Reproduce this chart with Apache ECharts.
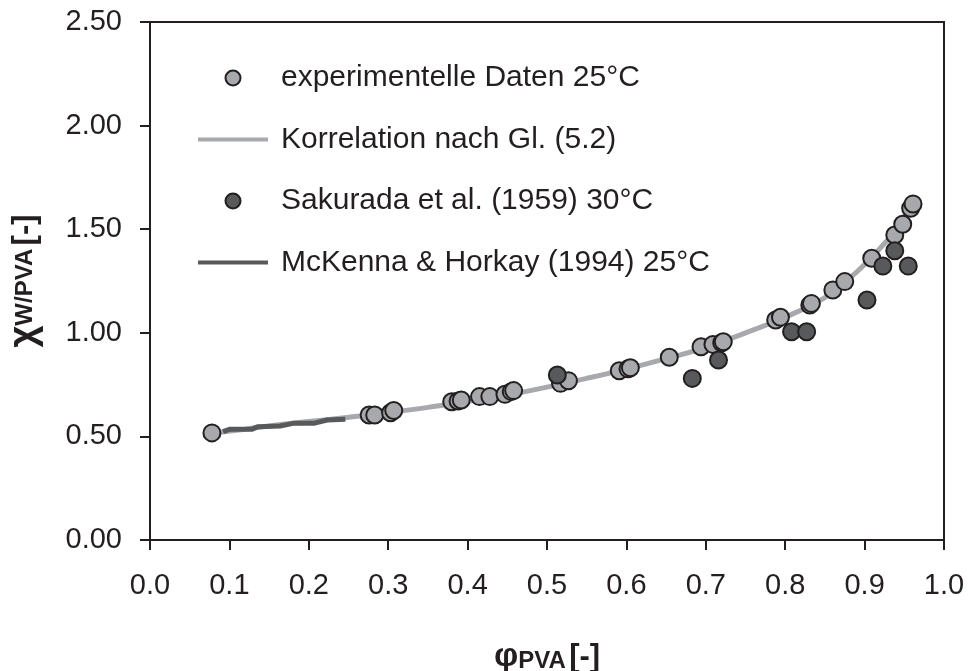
<!DOCTYPE html>
<html>
<head>
<meta charset="utf-8">
<script src="https://cdn.jsdelivr.net/npm/echarts@6/dist/echarts.min.js"></script>
<style>
  html, body { margin: 0; padding: 0; background: #fff; }
  #chart { width: 968px; height: 671px; }
</style>
</head>
<body>
<div id="chart"></div>
<script>
// Flory-Huggins interaction parameter of water / PVA vs. polymer volume fraction

// experimentelle Daten 25°C : [phi_PVA, chi]
const expData = [
  [0.078, 0.517], [0.276, 0.603], [0.283, 0.603], [0.303, 0.614], [0.307, 0.625],
  [0.380, 0.667], [0.388, 0.671], [0.392, 0.676], [0.415, 0.692], [0.428, 0.692],
  [0.447, 0.703], [0.455, 0.716], [0.458, 0.721], [0.517, 0.756], [0.527, 0.769],
  [0.591, 0.817], [0.602, 0.826], [0.605, 0.831], [0.654, 0.882], [0.694, 0.933],
  [0.709, 0.944], [0.720, 0.952], [0.722, 0.957], [0.788, 1.062], [0.794, 1.075],
  [0.831, 1.134], [0.833, 1.142], [0.860, 1.207], [0.875, 1.247], [0.909, 1.360],
  [0.938, 1.472], [0.948, 1.524], [0.958, 1.601], [0.961, 1.622]
];

// Korrelation nach Gl. (5.2)
const corrData = [
  [0.078, 0.515], [0.12, 0.535], [0.16, 0.555], [0.20, 0.572], [0.25, 0.592],
  [0.30, 0.615], [0.35, 0.640], [0.40, 0.670], [0.45, 0.700], [0.50, 0.738],
  [0.55, 0.780], [0.60, 0.825], [0.65, 0.875], [0.70, 0.930], [0.75, 1.000],
  [0.80, 1.075], [0.85, 1.170], [0.88, 1.260], [0.90, 1.330], [0.92, 1.410],
  [0.94, 1.500], [0.96, 1.630]
];

// Sakurada et al. (1959) 30°C
const sakuradaData = [
  [0.513, 0.796], [0.683, 0.780], [0.716, 0.869], [0.808, 1.005], [0.827, 1.005],
  [0.903, 1.158], [0.923, 1.322], [0.938, 1.396], [0.955, 1.322]
];

// McKenna & Horkay (1994) 25°C
const mckennaData = [
  [0.092, 0.523], [0.100, 0.534], [0.128, 0.534], [0.136, 0.547], [0.164, 0.550],
  [0.180, 0.563], [0.206, 0.563], [0.223, 0.579], [0.246, 0.583]
];

const xTicks = { min: 0, max: 1, interval: 0.1 };
const yTicks = { min: 0, max: 2.5, interval: 0.5 };

const seriesNames = [
  'experimentelle Daten 25°C',
  'Korrelation nach Gl. (5.2)',
  'Sakurada et al. (1959) 30°C',
  'McKenna & Horkay (1994) 25°C'
];

const INK = '#231f20';
const LIGHT = '#a7a9ac';
const DARK = '#58595b';
const FONT = '"Liberation Sans", Arial, sans-serif';

const chart = echarts.init(document.getElementById('chart'), null, { renderer: 'canvas' });

// legend rows: markers keep their own style, line rows show only the stroke
const lineLegendItem = (name, color) => ({
  name,
  itemStyle: { color: 'rgba(0,0,0,0)', borderWidth: 0, opacity: 0 },
  lineStyle: { color, width: 4 }
});

chart.setOption({
  backgroundColor: '#ffffff',
  animation: false,
  textStyle: { fontFamily: FONT, color: INK },
  grid: {
    left: 150, top: 22, right: 24, bottom: 131,
    outerBoundsMode: 'none',
    containLabel: false,
    show: true, borderColor: INK, borderWidth: 2, backgroundColor: 'transparent'
  },
  legend: {
    orient: 'vertical',
    left: 196,
    top: 62,
    padding: 0,
    itemWidth: 70,
    itemHeight: 15,
    itemGap: 29.5,
    selectedMode: false,
    textStyle: { fontFamily: FONT, fontSize: 30, color: INK, lineHeight: 32, padding: [0, 0, 0, 8] },
    data: [
      seriesNames[0],
      lineLegendItem(seriesNames[1], LIGHT),
      seriesNames[2],
      lineLegendItem(seriesNames[3], DARK)
    ]
  },
  xAxis: {
    type: 'value',
    min: xTicks.min, max: xTicks.max, interval: xTicks.interval,
    name: '{g|φ}{s|PVA} {b|[-]}',
    nameLocation: 'middle',
    nameGap: 100,
    nameTextStyle: {
      rich: {
        g: { fontFamily: FONT, fontWeight: 'bold', fontSize: 34, color: INK },
        s: { fontFamily: FONT, fontWeight: 'bold', fontSize: 24, color: INK, padding: [8, 0, 0, 0] },
        b: { fontFamily: FONT, fontWeight: 'bold', fontSize: 31, color: INK }
      }
    },
    axisLine: { show: true, lineStyle: { color: INK, width: 2 } },
    axisTick: { show: true, inside: false, length: 10, lineStyle: { color: INK, width: 2 } },
    axisLabel: {
      margin: 31, fontSize: 29, fontFamily: FONT, color: INK,
      formatter: v => v.toFixed(1)
    },
    splitLine: { show: false }
  },
  yAxis: {
    type: 'value',
    min: yTicks.min, max: yTicks.max, interval: yTicks.interval,
    name: '{g|χ}{s|W/PVA} {b|[-]}',
    nameLocation: 'middle',
    nameRotate: 90,
    nameGap: 106,
    nameTextStyle: {
      rich: {
        g: { fontFamily: FONT, fontWeight: 'bold', fontSize: 38, color: INK },
        s: { fontFamily: FONT, fontWeight: 'bold', fontSize: 24, color: INK },
        b: { fontFamily: FONT, fontWeight: 'bold', fontSize: 31, color: INK }
      }
    },
    axisLine: { show: true, lineStyle: { color: INK, width: 2 } },
    axisTick: { show: true, inside: false, length: 10, lineStyle: { color: INK, width: 2 } },
    axisLabel: {
      margin: 28, fontSize: 29, fontFamily: FONT, color: INK,
      formatter: v => v.toFixed(2)
    },
    splitLine: { show: false }
  },
  series: [
    {
      name: seriesNames[0],
      type: 'scatter',
      z: 4,
      data: expData,
      symbol: 'circle',
      symbolSize: 17,
      itemStyle: { color: LIGHT, borderColor: INK, borderWidth: 2, opacity: 1 }
    },
    {
      name: seriesNames[1],
      type: 'line',
      z: 2,
      data: corrData,
      smooth: 0.4,
      showSymbol: false,
      symbol: 'none',
      lineStyle: { color: LIGHT, width: 5 },
      itemStyle: { color: LIGHT }
    },
    {
      name: seriesNames[2],
      type: 'scatter',
      z: 5,
      data: sakuradaData,
      symbol: 'circle',
      symbolSize: 17,
      itemStyle: { color: DARK, borderColor: INK, borderWidth: 2, opacity: 1 }
    },
    {
      name: seriesNames[3],
      type: 'line',
      z: 3,
      data: mckennaData,
      showSymbol: false,
      symbol: 'none',
      lineStyle: { color: DARK, width: 5 },
      itemStyle: { color: DARK }
    }
  ]
});
</script>
</body>
</html>
